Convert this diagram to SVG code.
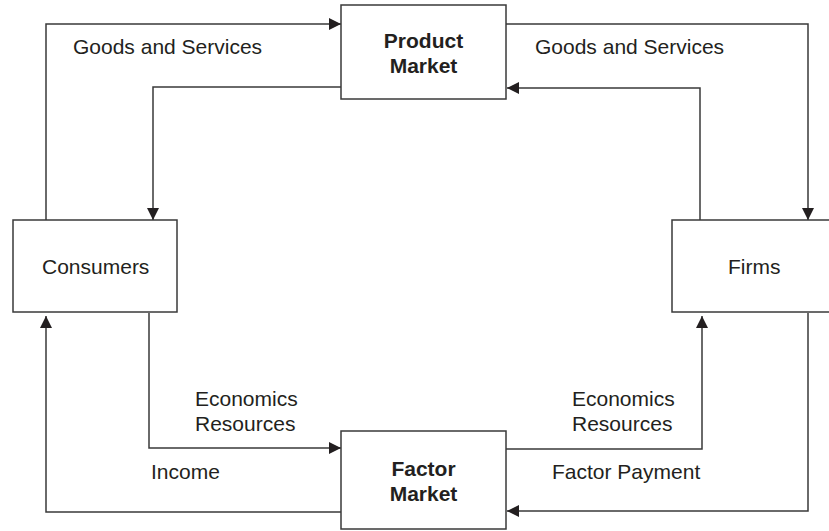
<svg xmlns="http://www.w3.org/2000/svg" width="829" height="531" viewBox="0 0 829 531">
<style>
.box{fill:#fff;stroke:#3a3a3a;stroke-width:1.5}
.ln{fill:none;stroke:#3a3a3a;stroke-width:1.5;marker-end:url(#ah)}
text{font-family:"Liberation Sans",Arial,sans-serif;font-size:21px;fill:#231f20}
.b{font-weight:bold;text-anchor:middle}
</style>
<defs>
<marker id="ah" markerUnits="userSpaceOnUse" markerWidth="12" markerHeight="12" refX="12" refY="6" orient="auto">
<path d="M0,0 L12,6 L0,12 z" fill="#231f20"/>
</marker>
</defs>
<g id="connectors">
<path class="ln" d="M46,220 V24 H341"/>
<path class="ln" d="M341,87 H153 V220"/>
<path class="ln" d="M506,24 H808 V220"/>
<path class="ln" d="M700,220 V88 H507"/>
<path class="ln" d="M149,313 V448 H341"/>
<path class="ln" d="M341,512 H46 V316"/>
<path class="ln" d="M506,449 H702 V316"/>
<path class="ln" d="M808,313 V511 H507"/>
</g>
<g id="labels">
<text x="73" y="54">Goods and Services</text>
<text x="535" y="54">Goods and Services</text>
<text x="195" y="406">Economics</text>
<text x="195" y="431">Resources</text>
<text x="151" y="479">Income</text>
<text x="572" y="406">Economics</text>
<text x="572" y="431">Resources</text>
<text x="552" y="479">Factor Payment</text>
</g>
<g id="product-market">
<rect class="box" x="341" y="5" width="165" height="94"/>
<text class="b" x="423.5" y="48">Product</text>
<text class="b" x="423.5" y="73">Market</text>
</g>
<g id="consumers">
<rect class="box" x="13" y="220" width="164" height="92"/>
<text x="42" y="274">Consumers</text>
</g>
<g id="firms">
<rect class="box" x="672" y="220" width="166" height="92"/>
<text x="728" y="274">Firms</text>
</g>
<g id="factor-market">
<rect class="box" x="341" y="431" width="165" height="98"/>
<text class="b" x="423.5" y="476">Factor</text>
<text class="b" x="423.5" y="501">Market</text>
</g>
</svg>
